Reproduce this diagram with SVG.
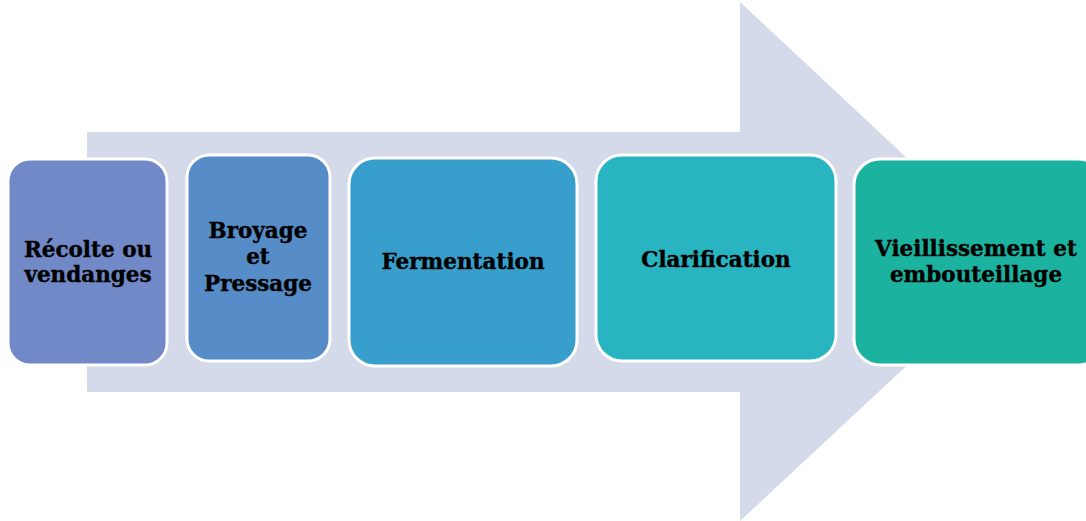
<svg xmlns="http://www.w3.org/2000/svg" width="1086" height="521" viewBox="0 0 1086 521">
<style>
.box{stroke:#ffffff;stroke-width:3}
.lbl{font-family:"DejaVu Serif","Liberation Serif",serif;font-weight:bold;font-size:21.5px;fill:#000;stroke:#000;stroke-width:0.4;text-anchor:middle}
</style>
<rect width="1086" height="521" fill="#ffffff"/>
<g id="arrow">
<polygon points="87,132 740,132 740,2 1018,262 740,521 740,392 87,392" fill="#D5DAEA"/>
</g>
<g id="connectors"></g>
<g id="n1">
<rect class="box" x="8" y="159" width="159" height="206" rx="22" fill="#7189C7"/>
<text class="lbl" x="88" y="257">Récolte ou</text>
<text class="lbl" x="88" y="282">vendanges</text>
</g>
<g id="n2">
<rect class="box" x="187" y="155" width="143" height="206" rx="22" fill="#568DC9"/>
<text class="lbl" x="258" y="238">Broyage</text>
<text class="lbl" x="258" y="264">et</text>
<text class="lbl" x="258" y="291">Pressage</text>
</g>
<g id="n3">
<rect class="box" x="349" y="158" width="228" height="208" rx="26" fill="#389FCD"/>
<text class="lbl" x="463" y="269">Fermentation</text>
</g>
<g id="n4">
<rect class="box" x="596" y="155" width="240" height="206" rx="26" fill="#28B4C1"/>
<text class="lbl" x="716" y="267">Clarification</text>
</g>
<g id="n5">
<rect class="box" x="854" y="159" width="250" height="206" rx="26" fill="#1BB39F"/>
<text class="lbl" x="976" y="256">Vieillissement et</text>
<text class="lbl" x="976" y="282">embouteillage</text>
</g>
</svg>
